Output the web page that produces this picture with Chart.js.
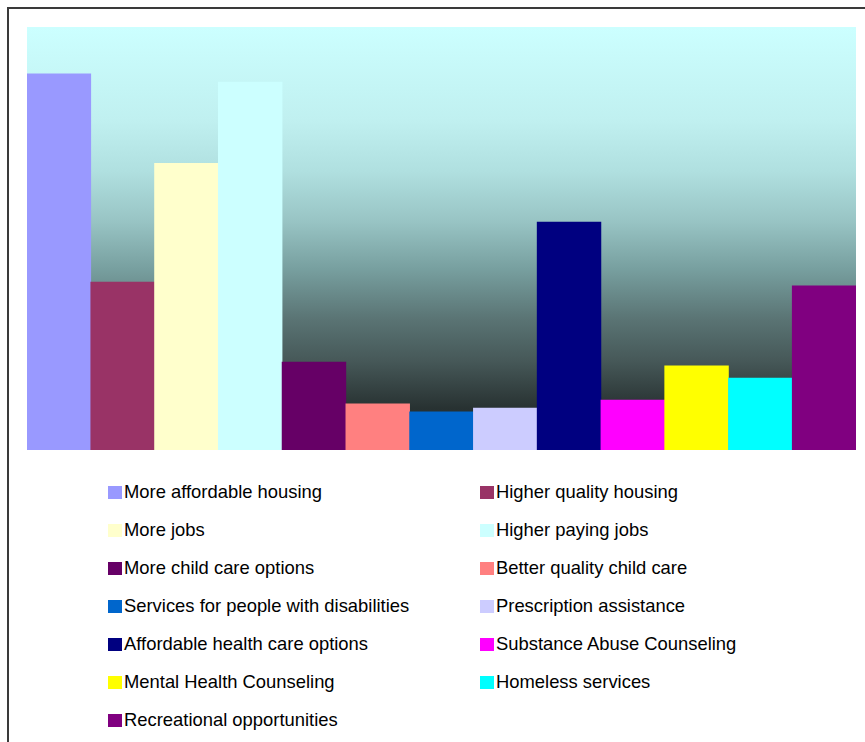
<!DOCTYPE html>
<html>
<head>
<meta charset="utf-8">
<script src="https://cdn.jsdelivr.net/npm/chart.js@4.4.0/dist/chart.umd.min.js"></script>
<style>
  body { margin: 0; background: #fff; width: 865px; height: 742px; overflow: hidden; position: relative; font-family: "Liberation Sans", Arial, sans-serif; }
  #frame { position: absolute; left: 7px; top: 7px; width: 900px; height: 800px; border-left: 2px solid #3a3a3a; border-top: 2px solid #3a3a3a; }
  #chartWrap { position: absolute; left: 0; top: 0; width: 865px; height: 460px; }
  #legend { position: absolute; left: 108px; top: 473px; display: grid; grid-template-columns: 372px 300px; grid-auto-rows: 38px; }
  .item { display: flex; align-items: center; font-size: 18.4px; color: #000; white-space: nowrap; }
  .box { width: 14px; height: 13px; margin-right: 2px; flex: none; }
</style>
</head>
<body>
<div id="frame"></div>
<div id="chartWrap"><canvas id="needsChart" width="865" height="460"></canvas></div>
<div id="legend"></div>
<script>
// categories
const categories = [
    'More affordable housing',
    'Higher quality housing',
    'More jobs',
    'Higher paying jobs',
    'More child care options',
    'Better quality child care',
    'Services for people with disabilities',
    'Prescription assistance',
    'Affordable health care options',
    'Substance Abuse Counseling',
    'Mental Health Counseling',
    'Homeless services',
    'Recreational opportunities'
];
// values (axis hidden, max 100)
const responses = [88.9, 39.7, 67.8, 87.0, 20.8, 10.9, 9.0, 9.9, 53.9, 11.8, 19.9, 17.0, 38.8];
const barColors = [
    '#9999FF', '#993366', '#FFFFCC', '#CCFFFF', '#660066', '#FF8080', '#0066CC',
    '#CCCCFF', '#000080', '#FF00FF', '#FFFF00', '#00FFFF', '#800080'
];

// plot area background gradient
const plotBackground = {
    id: 'plotBackground',
    beforeDraw(chart) {
        const { ctx, chartArea: a } = chart;
        const g = ctx.createLinearGradient(0, a.top, 0, a.bottom);
        g.addColorStop(0, '#CCFFFF');
        g.addColorStop(0.22, '#C0F0F0');
        g.addColorStop(0.34, '#B0E0E0');
        g.addColorStop(0.46, '#98C4C4');
        g.addColorStop(0.57, '#78A0A0');
        g.addColorStop(0.69, '#5A7474');
        g.addColorStop(0.79, '#465858');
        g.addColorStop(0.9, '#283232');
        g.addColorStop(1, '#1C2222');
        ctx.save();
        ctx.fillStyle = g;
        ctx.fillRect(a.left, a.top, a.right - a.left, a.bottom - a.top);
        ctx.restore();
    }
};

// legend in two columns, built from the chart data
const htmlLegend = {
    id: 'htmlLegend',
    afterUpdate(chart) {
        const box = document.getElementById('legend');
        box.innerHTML = '';
        chart.data.labels.forEach((lbl, i) => {
            const item = document.createElement('div');
            item.className = 'item';
            const sw = document.createElement('span');
            sw.className = 'box';
            sw.style.background = chart.data.datasets[0].backgroundColor[i];
            item.appendChild(sw);
            item.appendChild(document.createTextNode(lbl));
            box.appendChild(item);
        });
    }
};

new Chart(document.getElementById('needsChart'), {
    type: 'bar',
    data: {
        labels: categories,
        datasets: [{
            data: responses,
            backgroundColor: barColors,
            borderWidth: 0,
            categoryPercentage: 1,
            barPercentage: 1
        }]
    },
    options: {
        responsive: false,
        animation: false,
        layout: { padding: { left: 27, top: 27, right: 9, bottom: 10 } },
        scales: {
            x: { display: false },
            y: { display: false, min: 0, max: 100 }
        },
        plugins: {
            legend: { display: false },
            tooltip: { enabled: false }
        }
    },
    plugins: [plotBackground, htmlLegend]
});
</script>
</body>
</html>
